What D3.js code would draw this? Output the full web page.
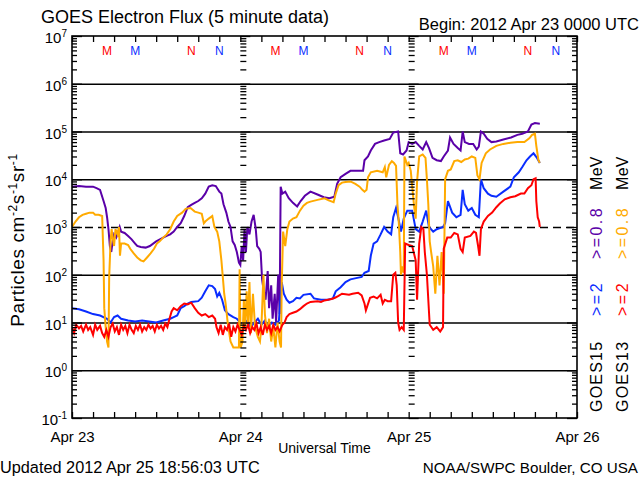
<!DOCTYPE html>
<html><head><meta charset="utf-8">
<script src="https://cdn.jsdelivr.net/npm/d3@7"></script>
<style>
html,body{margin:0;padding:0;background:#fff;}
svg{display:block;font-family:"Liberation Sans",Arial,sans-serif;}
</style></head>
<body>
<svg id="chart" width="640" height="480"></svg>
<script>
// ---------- DATA (hours since 2012 Apr 23 00:00 UTC) ----------
const dayTicks = [0, 24, 48, 72];
const dayLabels = ["Apr 23", "Apr 24", "Apr 25", "Apr 26"];
const decades = [0.1, 1, 10, 100, 1e3, 1e4, 1e5, 1e6, 1e7];
const decadeExp = ["-1", "0", "1", "2", "3", "4", "5", "6", "7"];

// GOES15 >=0.8 MeV (purple)
const g15e08T = [0,1,2,3,3.5,4,4.5,4.8,5,5.2,5.4,5.6,5.8,6,6.3,6.6,6.8,7,7.5,8,8.5,9,9.3,9.8,10.5,11.1,12,13,13.5,14,14.5,15,15.5,16,16.5,17,17.5,18,18.5,19,19.5,20,20.5,21,21.3,21.6,22,22.3,22.6,22.9,23.2,23.5,23.8,24,24.2,24.4,24.6,24.8,25,25.3,25.6,25.9,26.2,26.4,26.7,26.9,27.1,27.3,27.6,27.9,28.1,28.4,28.6,28.9,29.1,29.4,29.6,29.75,30,30.4,30.9,31.5,32.1,32.6,33.2,34,35,35.9,36.7,37.4,37.8,38.3,39,39.7,40.5,41.5,41.7,42.2,42.6,43.2,43.8,44.5,45.3,45.8,46.5,46.8,47.2,47.7,48,48.5,49,49.5,50,50.5,50.9,51.4,52,52.6,53,53.6,53.9,54.4,55,55.4,55.7,56,56.6,57.2,57.7,58,58.3,58.7,59.2,59.8,60.5,61.5,62.6,63.5,64.2,65,65.5,66,66.7];
const g15e08V = [7000,7200,7000,7000,6500,6000,3500,2500,1600,900,400,300,500,700,600,800,1000,800,750,650,550,450,400,380,370,400,500,600,650,700,800,1000,1200,1700,2600,2900,3200,3500,4000,5000,7000,7500,7200,5500,5000,3000,2000,1300,1000,500,420,300,180,160,400,200,900,300,1000,700,1300,1800,900,400,350,300,80,50,30,120,20,60,12,40,10,100,15,7000,5000,5500,4000,3200,2700,3500,4500,5500,4800,4200,4000,4300,8000,11000,13000,15000,15000,15000,25000,30000,40000,55000,60000,65000,70000,95000,100000,35000,33000,40000,60000,55000,60000,50000,42000,60000,45000,28000,25000,24000,30000,40000,75000,55000,45000,40000,100000,60000,55000,55000,42000,48000,100000,90000,70000,60000,62000,68000,75000,85000,90000,100000,140000,150000,145000];

// GOES15 >=2 MeV (blue)
const g15e2T = [0,1,2,3,4,5,5.5,6,6.5,7,8,9,10,11,12,13,14,14.5,15,15.5,16,16.5,17,18,18.5,19,19.5,20,20.4,20.7,21,21.4,21.8,22.3,23,23.5,24,24.5,25,25.5,26,26.5,27,27.5,28,28.5,29,29.5,29.9,30.2,30.6,31,31.5,32,32.5,33,34,34.5,35.5,36.5,37.2,37.6,38.3,39,39.7,40.5,41.3,41.7,42.3,42.6,43,43.5,44,44.5,45,45.5,45.8,46.2,46.5,46.9,47.3,47.8,48.5,49,49.5,50,50.5,50.9,51.5,52,52.9,53.2,53.6,54.2,54.8,55.4,55.7,56,56.5,57,57.5,58,58.3,58.7,59.3,59.8,60.5,61.5,62.5,63,63.7,64.2,64.8,65.3,65.8,66.3,66.7];
const g15e2V = [20,19,17,15,14,12,10,13,14,12,11,10.5,11,10.5,10,11,12,13,14,20,22,25,27,28,33,45,60,58,50,35,42,30,18,15,13,12,10,9,11,8,10,12,9,11,8,10,9,11,70,40,30,26,28,33,32,38,40,32,30,30,32,45,55,70,80,85,90,110,120,250,450,500,700,1000,800,700,1600,2500,1600,800,1500,2200,2200,900,800,1300,2200,1000,800,900,1000,1200,3500,2000,1600,1800,6000,3000,2200,2500,1800,1600,10000,6500,5000,4500,4300,5500,7000,11000,14000,18000,25000,30000,35000,28000,22000];

// GOES13 >=0.8 MeV (orange)
const g13e08T = [0,0.5,1,1.5,2,2.5,3,3.3,3.8,4.3,4.5,4.6,4.8,5,5.2,5.3,5.5,5.65,5.8,6,6.2,6.5,6.7,6.84,7,7.5,8,8.3,8.8,9.3,9.8,10.2,10.7,11.2,11.7,12.1,12.5,13,13.5,14,14.5,15,15.7,16.2,16.9,17.5,18,18.5,18.8,19,19.5,20,20.3,20.7,21,21.3,21.5,21.7,21.9,22.2,22.6,23,23.5,23.8,23.9,24.05,24.3,24.5,24.7,24.9,25.1,25.3,25.5,25.8,26.1,26.5,26.8,27,27.3,27.5,27.8,28.1,28.4,28.7,29,29.3,29.6,29.8,29.9,30.1,30.4,30.7,31,31.5,32,32.5,33,33.5,34,35,36,36.6,37.3,37.6,38,38.5,39,39.7,40.4,41,41.4,41.7,42,42.2,42.6,43.5,44.3,44.6,44.8,45.2,45.6,45.9,46.2,46.4,46.6,46.8,46.9,47.1,47.3,47.4,47.8,48,48.3,48.6,48.8,49,49.2,49.5,50,50.4,50.6,50.8,51,51.2,51.5,51.8,52.1,52.4,52.7,53,53.2,53.6,54,54.5,55,55.5,56,56.5,57,57.5,57.8,58.1,58.4,59,59.6,60.5,61.5,62.5,63.5,64.5,65.2,65.6,66,66.2,66.5,66.7];
const g13e08V = [1000,1300,1600,1800,1900,2000,2000,1800,1800,1700,200,20,8,4,3,90,500,900,600,400,900,700,1000,250,450,450,420,350,280,230,200,190,230,280,350,450,500,600,700,900,1300,1700,2000,2400,2500,2100,2000,1900,1200,1300,1500,1700,1000,800,500,200,90,40,25,10,4,3,3,3,130,3,4,30,8,45,10,70,6,40,8,5,4,8,100,15,6,12,4,8,3,10,4,3,60,800,400,900,1300,1500,1600,2200,2800,3200,3400,3700,4000,3600,3300,5000,7500,8500,8800,9000,8000,7000,6000,5500,6000,11000,14000,15000,14000,18000,11000,20000,24000,22000,19000,3000,1200,300,100,150,110,30000,20000,22000,15000,5000,2500,1500,9000,30000,33000,28000,10000,3000,500,300,150,40,250,60,300,40,10000,15000,16000,24000,25000,23000,26000,27000,30000,28000,12000,10000,22000,35000,42000,50000,55000,58000,60000,60000,72000,85000,90000,50000,25000,22000];

// GOES13 >=2 MeV (red)
const g13e2T = [0,0.3,0.6,1,1.3,1.6,2,2.3,2.6,3,3.3,3.6,4,4.3,4.6,4.9,5.2,5.5,5.8,6.1,6.4,6.7,7,7.3,7.6,7.9,8.2,8.5,8.8,9.1,9.4,9.7,10,10.3,10.6,10.9,11.2,11.5,11.8,12.1,12.4,12.7,13,13.3,13.6,13.9,14.2,14.5,15,15.5,16,16.5,17,17.5,18,18.5,19,19.5,20,20.4,20.6,20.9,21.2,21.5,21.8,22.1,22.4,22.7,23,23.3,23.6,23.9,24.2,24.5,24.8,25.1,25.4,25.7,26,26.3,26.6,26.9,27.2,27.5,27.8,28.1,28.4,28.7,29,29.3,29.6,30,30.3,30.6,31,31.5,32,32.5,33,33.5,34,35,35.5,36,36.5,37,37.5,38,38.5,39.5,40,40.8,41.3,41.7,41.9,42.1,42.5,43,43.5,44,44.3,44.6,45,45.5,45.8,46.1,46.3,46.5,46.7,47,47.3,47.5,48,48.5,49,49.2,49.5,49.8,50.1,50.3,50.6,51,51.5,52,52.5,52.9,53,53.5,54,54.5,55,55.4,55.7,56,56.8,57.3,57.6,57.9,58.1,58.3,58.7,59.3,59.9,60.5,61,61.7,62.5,63.2,64,64.5,65,65.5,65.8,66.1,66.2,66.4,66.6,66.7];
const g13e2V = [8,6,9,7.5,8.5,6.5,9,7,8,5.5,9,7,8.5,6,5,7,5,8,9.5,6.5,8,5.5,9,7,8.5,6,9,7,6,8.5,7,9,6.5,8,7,9,7.5,8.5,6.5,9,7.5,8.5,7,9.5,8,12,17,20,18,22,25,24,26,20,16,14,15,13,14,12,8,6,9,5.5,8,7,9.5,5,8,6.5,9,7,5.5,8.5,7,9,6,8,7,9.5,6,8,5.5,9,7,8.5,6,9,7,8,6.5,9,10,13,15,16,17,19,22,25,27,28,27,29,30,31,33,36,40,38,40,42,37,25,18,22,33,35,32,38,25,30,28,28,100,110,60,10,7,8,7,450,420,400,200,30,450,1000,900,300,100,9,7,8,6.5,8,350,600,600,750,700,350,300,600,650,800,750,400,250,900,1300,1700,2000,2600,3100,3800,4200,4400,5000,5000,6500,7500,10000,10500,3500,1600,1300,1000];

// local midnight / noon markers
const mnHours = [5, 9, 17, 21, 29, 33, 41, 45, 53, 57, 65, 69];
const mnLabels = ["M","M","N","N","M","M","N","N","M","M","N","N"];
const mnSat = [13,15,13,15,13,15,13,15,13,15,13,15];

// ---------- STYLE ----------
const C = {purple:"#5a00a8", blue:"#0a2dff", orange:"#ffaa00", red:"#ff0000"};
const L = 72, R = 577, T = 36, B = 418;

const svg = d3.select("#chart");
const x = d3.scaleLinear().domain([0, 72]).range([L, R]);
const y = d3.scaleLog().domain([0.1, 1e7]).range([B, T]);

const minor = [];
decades.slice(0, -1).forEach(d => { for (let k = 2; k <= 9; k++) minor.push(d * k); });

// gridlines
const gridVals = [1, 10, 100, 1e3, 1e4, 1e5, 1e6];
const grid = svg.append("g").attr("transform", `translate(${L},0)`)
  .call(d3.axisLeft(y).tickValues(gridVals).tickSize(-(R - L)).tickFormat(""));
grid.select(".domain").remove();
grid.selectAll(".tick line").attr("stroke", "#000").attr("stroke-width", 1.6)
  .attr("stroke-dasharray", d => d === 1e3 ? "8,5" : null);

// clip
svg.append("clipPath").attr("id", "clip").append("rect")
  .attr("x", L).attr("y", T).attr("width", R - L).attr("height", B - T);

// series
const line = d3.line().x(d => x(d[0])).y(d => y(d[1]));
const series = [
  [g15e08T, g15e08V, C.purple],
  [g15e2T, g15e2V, C.blue],
  [g13e08T, g13e08V, C.orange],
  [g13e2T, g13e2V, C.red]
];
const plot = svg.append("g").attr("clip-path", "url(#clip)");
series.forEach(([t, v, c]) => {
  plot.append("path").datum(t.map((h, i) => [h, v[i]]))
    .attr("d", line).attr("fill", "none").attr("stroke", c)
    .attr("stroke-width", 2).attr("stroke-linejoin", "miter");
});

function styleAxis(g) {
  g.select(".domain").remove();
  g.selectAll(".tick line").attr("stroke", "#000").attr("stroke-width", 1.3);
}
// x ticks every 3 hours (bottom & top, inward)
const hourTicks = d3.range(0, 73, 3);
svg.append("g").attr("transform", `translate(0,${B})`)
  .call(d3.axisBottom(x).tickValues(hourTicks).tickSize(-6).tickFormat("")).call(styleAxis);
svg.append("g").attr("transform", `translate(0,${T})`)
  .call(d3.axisTop(x).tickValues(hourTicks).tickSize(-6).tickFormat("")).call(styleAxis);

// y ticks on left, right and day boundaries
function yTicks(xpos, axisFn, minorLen, majorLen) {
  svg.append("g").attr("transform", `translate(${xpos},0)`)
    .call(axisFn(y).tickValues(minor).tickSize(minorLen).tickFormat("")).call(styleAxis);
  svg.append("g").attr("transform", `translate(${xpos},0)`)
    .call(axisFn(y).tickValues(decades).tickSize(majorLen).tickFormat("")).call(styleAxis);
}
yTicks(L, d3.axisLeft, -5, -10);
yTicks(R, d3.axisRight, -5, -10);
[24, 48].forEach(h => yTicks(x(h), d3.axisRight, 6, 10));

// frame
svg.append("rect").attr("x", L).attr("y", T).attr("width", R - L).attr("height", B - T)
  .attr("fill", "none").attr("stroke", "#000").attr("stroke-width", 1.6);

// y tick labels (10^n)
const ylab = svg.append("g").attr("font-size", 15).attr("fill", "#000");
decades.forEach((d, i) => {
  const t = ylab.append("text").attr("x", 67).attr("y", y(d) + 7).attr("text-anchor", "end");
  t.append("tspan").text("10");
  t.append("tspan").attr("font-size", 10).attr("dy", -6).text(decadeExp[i]);
});

// x labels
svg.append("g").attr("transform", `translate(0,${B})`)
  .call(d3.axisBottom(x).tickValues(dayTicks).tickSize(0).tickPadding(13)
    .tickFormat((d, i) => dayLabels[i]))
  .call(g => g.select(".domain").remove())
  .call(g => g.selectAll("text").attr("font-size", 15).attr("font-family", "Liberation Sans, Arial, sans-serif").attr("fill", "#000"));

svg.append("text").attr("x", (L + R) / 2).attr("y", 453).attr("text-anchor", "middle")
  .attr("font-size", 14).text("Universal Time");

// title & info
svg.append("text").attr("x", 41).attr("y", 23).attr("font-size", 18)
  .text("GOES Electron Flux (5 minute data)");
svg.append("text").attr("x", 639).attr("y", 30).attr("font-size", 16.5).attr("text-anchor", "end")
  .text("Begin: 2012 Apr 23 0000 UTC");
svg.append("text").attr("x", 0).attr("y", 473).attr("font-size", 16.3)
  .text("Updated 2012 Apr 25 18:56:03 UTC");
svg.append("text").attr("x", 638).attr("y", 473).attr("font-size", 15.2).attr("text-anchor", "end")
  .text("NOAA/SWPC Boulder, CO USA");

// M / N markers
svg.append("g").selectAll("text").data(mnHours).join("text")
  .attr("x", d => x(d)).attr("y", 55).attr("text-anchor", "middle").attr("font-size", 12)
  .attr("fill", (d, i) => mnSat[i] === 13 ? C.red : C.blue)
  .text((d, i) => mnLabels[i]);

// y axis title
const yt = svg.append("text").attr("transform", "translate(24,240) rotate(-90)")
  .attr("text-anchor", "middle").attr("font-size", 19).attr("letter-spacing", 0.6);
yt.append("tspan").text("Particles cm");
yt.append("tspan").attr("font-size", 12).attr("dy", -7).text("-2");
yt.append("tspan").attr("dy", 7).text("s");
yt.append("tspan").attr("font-size", 12).attr("dy", -7).text("-1");
yt.append("tspan").attr("dy", 7).text("sr");
yt.append("tspan").attr("font-size", 12).attr("dy", -7).text("-1");

// right-side legend (rotated)
function rlabel(xb, yb, txt, col, ls) {
  svg.append("text").attr("transform", `translate(${xb},${yb}) rotate(-90)`)
    .attr("font-size", 16).attr("letter-spacing", ls).attr("fill", col).text(txt);
}
rlabel(602, 412, "GOES15", "#000", 1.2);
rlabel(602, 316, ">=2", C.blue, 2.5);
rlabel(602, 259, ">=0.8", C.purple, 2.4);
rlabel(602, 190, "MeV", "#000", 0.3);
rlabel(628, 412, "GOES13", "#000", 1.2);
rlabel(628, 316, ">=2", C.red, 2.5);
rlabel(628, 259, ">=0.8", C.orange, 2.4);
rlabel(628, 190, "MeV", "#000", 0.3);
</script>
</body></html>
